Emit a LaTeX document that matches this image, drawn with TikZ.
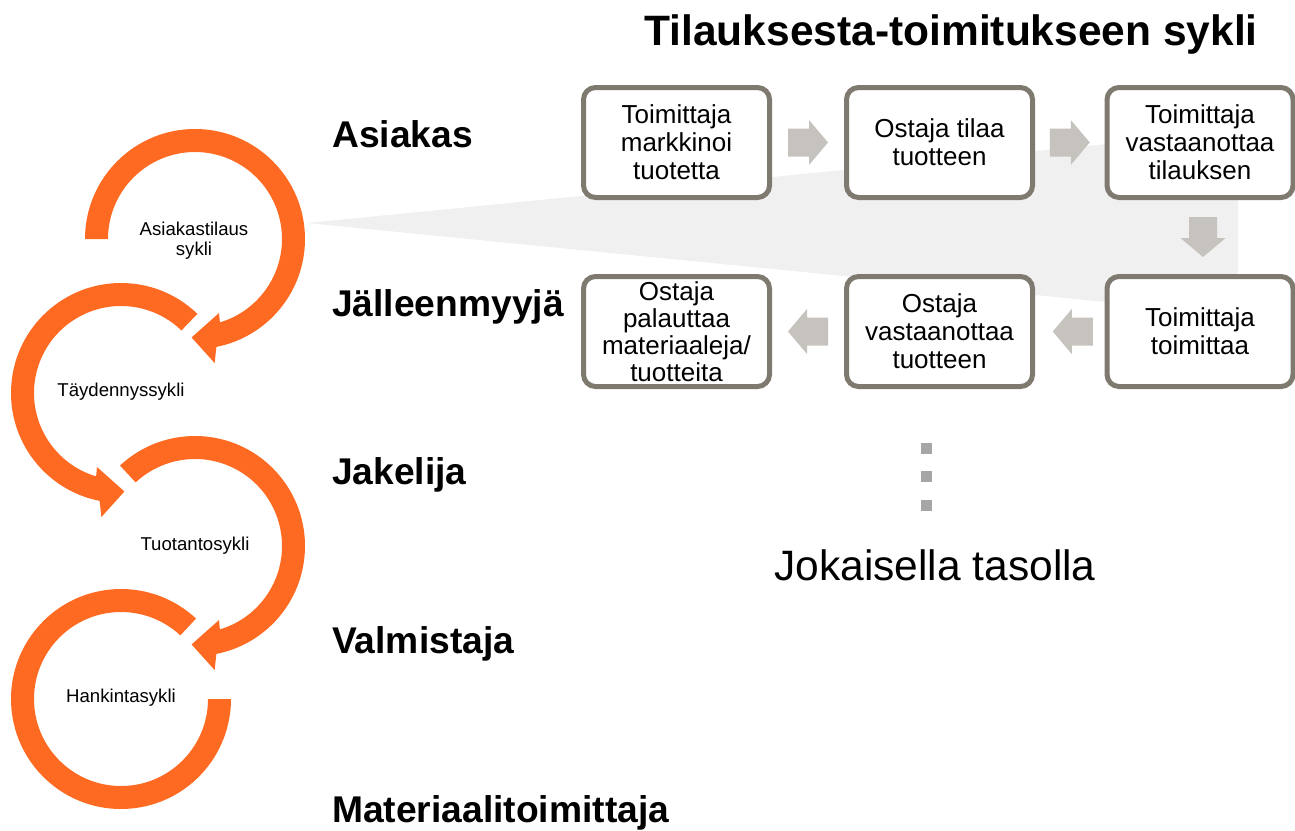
\documentclass[tikz,border=0pt]{standalone}
\usepackage{fontspec}
\setmainfont{Liberation Sans}
\usetikzlibrary{calc}
\definecolor{cyc}{HTML}{FF6A22}
\definecolor{boxline}{HTML}{7F7A70}
\definecolor{arrowgray}{HTML}{C6C2BE}
\definecolor{wedgegray}{HTML}{F0F0F0}
\definecolor{dotgray}{HTML}{A6A6A6}
% clockwise cycle arrow (visual), start angle given as TikZ angle (y axis flipped)
\newcommand\cwcycle[1]{%
  \fill[cyc] (#1:110) arc[start angle=#1,end angle=78.8,radius=110]
    -- (81:125.6) -- (92:98.5) -- (72:77.8) -- (73.4:87)
    arc[start angle=73.4,end angle=#1,radius=87] -- cycle;}
\newcommand\blockarrow[2]{%
  \fill[arrowgray,shift={(#1)},rotate=#2] (-20,-14) -- (1,-14) -- (1,-22.5) -- (20,0)
    -- (1,22.5) -- (1,14) -- (-20,14) -- cycle;}
\tikzset{
  stagebox/.style={draw=boxline, line width=5pt, rounded corners=12pt, fill=white,
    minimum width=186pt, minimum height=110pt, inner sep=0pt, align=center,
    font=\fontsize{26}{28}\selectfont},
  levellabel/.style={anchor=base west, inner sep=0pt, font=\bfseries\fontsize{37.2}{40}\selectfont},
  cyclabel/.style={align=center, inner sep=0pt, font=\fontsize{18.6}{20}\selectfont},
  dotsq/.style={fill=dotgray, minimum size=11pt, inner sep=0pt},
}
\begin{document}
\begin{tikzpicture}[x=1pt,y=-1pt]
\useasboundingbox (0,0) rectangle (1295,830);
% grey wedge
\fill[wedgegray] (307,223) -- (1238,131) -- (1238,315) -- cycle;
% cycle arrows
\coordinate (C1) at (195,239);
\coordinate (C2) at (121,393);
\coordinate (C3) at (195,546);
\coordinate (C4) at (121,699);
\begin{scope}[shift={(C1)}] \cwcycle{-180} \end{scope}
\begin{scope}[shift={(C2)},xscale=-1] \cwcycle{-134} \end{scope}
\begin{scope}[shift={(C3)}] \cwcycle{-133} \end{scope}
\begin{scope}[shift={(C4)}]
  \fill[cyc] (-47:110) arc[start angle=-47,end angle=-360,radius=110]
    -- (-360:87) arc[start angle=-360,end angle=-47,radius=87] -- cycle;
\end{scope}
\node[cyclabel] (l1) at (194,241) {Asiakastilaus\\sykli};
\node[cyclabel] (l2) at (121,392) {Täydennyssykli};
\node[cyclabel] (l3) at (195,546) {Tuotantosykli};
\node[cyclabel] (l4) at (121,698) {Hankintasykli};
% level labels
\node[levellabel] (asiakas) at (332,147) {Asiakas};
\node[levellabel] (jalleen) at (332,316) {Jälleenmyyjä};
\node[levellabel] (jakelija) at (332,484) {Jakelija};
\node[levellabel] (valmistaja) at (332,653) {Valmistaja};
\node[levellabel] (materiaali) at (332,822) {Materiaalitoimittaja};
% title
\node[anchor=base east, inner sep=0pt, font=\bfseries\fontsize{42.5}{46}\selectfont] (title) at (1258,45) {Tilauksesta-toimitukseen sykli};
% boxes
\node[stagebox] (b1) at (676.5,142.5) {Toimittaja\\markkinoi\\tuotetta};
\node[stagebox] (b2) at (939.5,142.5) {Ostaja tilaa\\tuotteen};
\node[stagebox] (b3) at (1200,142.5) {Toimittaja\\vastaanottaa\\tilauksen};
\node[stagebox, font=\fontsize{26}{27}\selectfont] (b4) at (676.5,331.5) {Ostaja\\palauttaa\\materiaaleja/\\tuotteita};
\node[stagebox] (b5) at (939.5,331.5) {Ostaja\\vastaanottaa\\tuotteen};
\node[stagebox] (b6) at (1200,331.5) {Toimittaja\\toimittaa};
% block arrows
\blockarrow{$(b1.east)!0.5!(b2.west)$}{0}
\blockarrow{$(b2.east)!0.5!(b3.west)$}{0}
\blockarrow{$(b3.south)!0.5!(b6.north)+(3,0)$}{-90}
\blockarrow{$(b6.west)!0.5!(b5.east)+(3,0)$}{180}
\blockarrow{$(b5.west)!0.5!(b4.east)$}{180}
% dots
\node[dotsq] (d1) at (926.5,448.5) {};
\node[dotsq] (d2) at (926.5,476.5) {};
\node[dotsq] (d3) at (926.5,505) {};
\node[anchor=base, inner sep=0pt, font=\fontsize{42.5}{46}\selectfont] (joka) at (935,580) {Jokaisella tasolla};
\end{tikzpicture}
\end{document}
